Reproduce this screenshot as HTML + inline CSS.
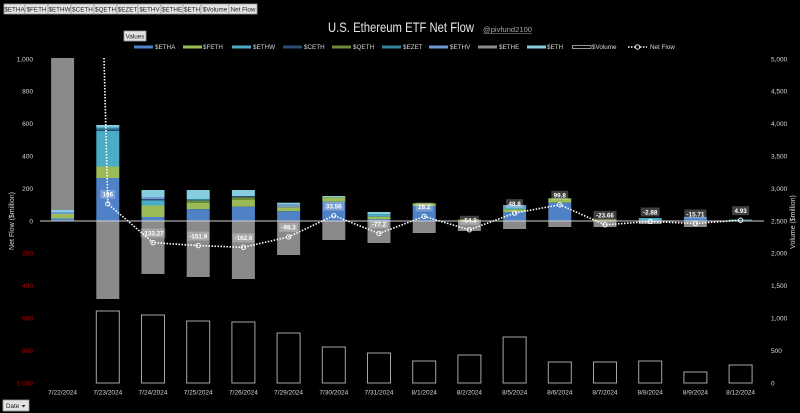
<!DOCTYPE html>
<html><head><meta charset="utf-8"><style>
html,body{margin:0;padding:0;background:#000;}
svg{display:block;}
text{font-family:"Liberation Sans",sans-serif;}
</style></head><body>
<svg width="800" height="413" viewBox="0 0 800 413" xmlns="http://www.w3.org/2000/svg">
<rect width="800" height="413" fill="#000"/>
<!-- top buttons -->
<g font-size="6.3" fill="#222" text-anchor="middle">
<rect x="4" y="4" width="21" height="10" fill="#e3e3e3" stroke="#9a9a9a" stroke-width="0.8"/><text x="14.5" y="11.4">$ETHA</text>
<rect x="25" y="4" width="23" height="10" fill="#e3e3e3" stroke="#9a9a9a" stroke-width="0.8"/><text x="36.5" y="11.4">$FETH</text>
<rect x="48" y="4" width="23" height="10" fill="#e3e3e3" stroke="#9a9a9a" stroke-width="0.8"/><text x="59.5" y="11.4">$ETHW</text>
<rect x="71" y="4" width="23" height="10" fill="#e3e3e3" stroke="#9a9a9a" stroke-width="0.8"/><text x="82.5" y="11.4">$CETH</text>
<rect x="94" y="4" width="23" height="10" fill="#e3e3e3" stroke="#9a9a9a" stroke-width="0.8"/><text x="105.5" y="11.4">$QETH</text>
<rect x="117" y="4" width="21" height="10" fill="#e3e3e3" stroke="#9a9a9a" stroke-width="0.8"/><text x="127.5" y="11.4">$EZET</text>
<rect x="138" y="4" width="23" height="10" fill="#e3e3e3" stroke="#9a9a9a" stroke-width="0.8"/><text x="149.5" y="11.4">$ETHV</text>
<rect x="161" y="4" width="22" height="10" fill="#e3e3e3" stroke="#9a9a9a" stroke-width="0.8"/><text x="172" y="11.4">$ETHE</text>
<rect x="183" y="4" width="18" height="10" fill="#e3e3e3" stroke="#9a9a9a" stroke-width="0.8"/><text x="192" y="11.4">$ETH</text>
<rect x="201" y="4" width="28" height="10" fill="#e3e3e3" stroke="#9a9a9a" stroke-width="0.8"/><text x="215" y="11.4">$Volume</text>
<rect x="229" y="4" width="28" height="10" fill="#e3e3e3" stroke="#9a9a9a" stroke-width="0.8"/><text x="243" y="11.4">Net Flow</text>
</g>
<!-- Values button -->
<rect x="124" y="31" width="22" height="10" fill="#e3e3e3" stroke="#9a9a9a" stroke-width="0.8"/>
<text x="135" y="38.4" font-size="6.3" fill="#222" text-anchor="middle">Values</text>
<!-- Date button -->
<rect x="3" y="400" width="26" height="11" fill="#e3e3e3" stroke="#9a9a9a" stroke-width="0.8"/>
<text x="6" y="408" font-size="6.3" fill="#222">Date</text>
<path d="M21.5 405 L25.5 405 L23.5 407.5 Z" fill="#333"/>
<!-- Title -->
<text x="328" y="32" font-size="13.5" fill="#e6e6e6" textLength="146" lengthAdjust="spacingAndGlyphs">U.S. Ethereum ETF Net Flow</text>
<text x="483" y="32" font-size="7.5" fill="#a6a6a6" textLength="49" lengthAdjust="spacingAndGlyphs">@pivfund2100</text>
<line x1="483" y1="33.5" x2="532" y2="33.5" stroke="#a6a6a6" stroke-width="0.6"/>
<!-- Legend -->
<g font-size="6.3" fill="#d9d9d9">
<rect x="134" y="45.5" width="19" height="3" fill="#4f81c7"/><text x="155" y="49.2">$ETHA</text>
<rect x="183" y="45.5" width="19" height="3" fill="#9bbb59"/><text x="203" y="49.2">$FETH</text>
<rect x="232" y="45.5" width="19" height="3" fill="#4bacc6"/><text x="253" y="49.2">$ETHW</text>
<rect x="283" y="45.5" width="19" height="3" fill="#2c4d75"/><text x="304" y="49.2">$CETH</text>
<rect x="332" y="45.5" width="19" height="3" fill="#6b8a3a"/><text x="353" y="49.2">$QETH</text>
<rect x="382" y="45.5" width="19" height="3" fill="#31859c"/><text x="403" y="49.2">$EZET</text>
<rect x="429" y="45.5" width="19" height="3" fill="#6f9bd1"/><text x="450" y="49.2">$ETHV</text>
<rect x="478" y="45.5" width="19" height="3" fill="#8a8a8a"/><text x="499" y="49.2">$ETHE</text>
<rect x="527" y="45.5" width="19" height="3" fill="#87cde0"/><text x="547" y="49.2">$ETH</text>
<rect x="572.5" y="45.5" width="18.5" height="3" fill="none" stroke="#bfbfbf" stroke-width="0.8"/><text x="592" y="49.2">$Volume</text>
<line x1="628" y1="47" x2="647" y2="47" stroke="#fff" stroke-width="1.5" stroke-dasharray="1.5 1.5"/>
<circle cx="637.5" cy="47" r="2.2" fill="#000" stroke="#fff" stroke-width="0.9"/>
<text x="650" y="49.2">Net Flow</text>
</g>
<!-- Left axis labels -->
<g font-size="6.5" text-anchor="end">
<text x="33" y="61.3" fill="#d9d9d9">1,000</text>
<text x="33" y="93.7" fill="#d9d9d9">800</text>
<text x="33" y="126.1" fill="#d9d9d9">600</text>
<text x="33" y="158.5" fill="#d9d9d9">400</text>
<text x="33" y="190.9" fill="#d9d9d9">200</text>
<text x="33" y="223.3" fill="#d9d9d9">0</text>
<text x="33" y="255.7" fill="#b00000">200</text>
<text x="33" y="288.1" fill="#b00000">400</text>
<text x="33" y="320.5" fill="#b00000">600</text>
<text x="33" y="352.9" fill="#b00000">800</text>
<text x="33" y="385.3" fill="#b00000">1,000</text>
</g>
<text transform="translate(14,221) rotate(-90)" font-size="7" fill="#d9d9d9" text-anchor="middle">Net Flow ($million)</text>
<!-- Right axis labels -->
<g font-size="6.5" fill="#d9d9d9">
<text x="771" y="61.3">5,000</text>
<text x="771" y="93.7">4,500</text>
<text x="771" y="126.1">4,000</text>
<text x="771" y="158.5">3,500</text>
<text x="771" y="190.9">3,000</text>
<text x="771" y="223.3">2,500</text>
<text x="771" y="255.7">2,000</text>
<text x="771" y="288.1">1,500</text>
<text x="771" y="320.5">1,000</text>
<text x="771" y="352.9">500</text>
<text x="771" y="385.3">0</text>
</g>
<text transform="translate(795,222) rotate(-90)" font-size="7" fill="#d9d9d9" text-anchor="middle">Volume ($million)</text>
<!-- Stacked bars -->
<g>
<!-- i0 -->
<rect x="51.1" y="58" width="23" height="152" fill="#8a8a8a"/>
<rect x="51.1" y="210" width="23" height="2" fill="#87cde0"/>
<rect x="51.1" y="212" width="23" height="2" fill="#6f9bd1"/>
<rect x="51.1" y="214" width="23" height="4.5" fill="#9bbb59"/>
<rect x="51.1" y="218.5" width="23" height="2.5" fill="#4f81c7"/>
<!-- i1 -->
<rect x="96.3" y="125" width="23" height="2.5" fill="#87cde0"/>
<rect x="96.3" y="127.5" width="23" height="2" fill="#31859c"/>
<rect x="96.3" y="129.5" width="23" height="1.5" fill="#2c4d75"/>
<rect x="96.3" y="131" width="23" height="35.5" fill="#4bacc6"/>
<rect x="96.3" y="166.5" width="23" height="11.5" fill="#9bbb59"/>
<rect x="96.3" y="178" width="23" height="43" fill="#4f81c7"/>
<rect x="96.3" y="221" width="23" height="78" fill="#8a8a8a"/>
<!-- i2 -->
<rect x="141.5" y="190" width="23" height="7" fill="#87cde0"/>
<rect x="141.5" y="197" width="23" height="2" fill="#6f9bd1"/>
<rect x="141.5" y="199" width="23" height="1.5" fill="#2c4d75"/>
<rect x="141.5" y="200.5" width="23" height="5" fill="#4bacc6"/>
<rect x="141.5" y="205.5" width="23" height="11.5" fill="#9bbb59"/>
<rect x="141.5" y="217" width="23" height="4" fill="#4f81c7"/>
<rect x="141.5" y="221" width="23" height="53" fill="#8a8a8a"/>
<!-- i3 -->
<rect x="186.7" y="190" width="23" height="9" fill="#87cde0"/>
<rect x="186.7" y="199" width="23" height="1.7" fill="#31859c"/>
<rect x="186.7" y="200.7" width="23" height="2" fill="#6b8a3a"/>
<rect x="186.7" y="202.7" width="23" height="6.6" fill="#9bbb59"/>
<rect x="186.7" y="209.3" width="23" height="11.7" fill="#4f81c7"/>
<rect x="186.7" y="221" width="23" height="56" fill="#8a8a8a"/>
<!-- i4 -->
<rect x="231.9" y="190" width="23" height="6" fill="#87cde0"/>
<rect x="231.9" y="196" width="23" height="1.3" fill="#2c4d75"/>
<rect x="231.9" y="197.3" width="23" height="2.7" fill="#6b8a3a"/>
<rect x="231.9" y="200" width="23" height="6.7" fill="#9bbb59"/>
<rect x="231.9" y="206.7" width="23" height="14.3" fill="#4f81c7"/>
<rect x="231.9" y="221" width="23" height="58" fill="#8a8a8a"/>
<!-- i5 -->
<rect x="277.1" y="202.7" width="23" height="2" fill="#87cde0"/>
<rect x="277.1" y="204.7" width="23" height="2.6" fill="#6f9bd1"/>
<rect x="277.1" y="207.3" width="23" height="4" fill="#9bbb59"/>
<rect x="277.1" y="211.3" width="23" height="9.7" fill="#4f81c7"/>
<rect x="277.1" y="221" width="23" height="34" fill="#8a8a8a"/>
<!-- i6 -->
<rect x="322.3" y="196" width="23" height="1.3" fill="#87cde0"/>
<rect x="322.3" y="197.3" width="23" height="4.4" fill="#9bbb59"/>
<rect x="322.3" y="201.7" width="23" height="19.3" fill="#4f81c7"/>
<rect x="322.3" y="221" width="23" height="19" fill="#8a8a8a"/>
<!-- i7 -->
<rect x="367.5" y="212" width="23" height="2.3" fill="#87cde0"/>
<rect x="367.5" y="214.3" width="23" height="2.4" fill="#4bacc6"/>
<rect x="367.5" y="216.7" width="23" height="2.6" fill="#9bbb59"/>
<rect x="367.5" y="219.3" width="23" height="1.7" fill="#4f81c7"/>
<rect x="367.5" y="221" width="23" height="22" fill="#8a8a8a"/>
<!-- i8 -->
<rect x="412.7" y="203.3" width="23" height="2.7" fill="#9bbb59"/>
<rect x="412.7" y="206" width="23" height="15" fill="#4f81c7"/>
<rect x="412.7" y="221" width="23" height="12" fill="#8a8a8a"/>
<!-- i9 -->
<rect x="457.9" y="219.5" width="23" height="1.5" fill="#6b8a3a"/>
<rect x="457.9" y="221" width="23" height="10" fill="#8a8a8a"/>
<!-- i10 -->
<rect x="503.1" y="205" width="23" height="2" fill="#6f9bd1"/>
<rect x="503.1" y="207" width="23" height="2.3" fill="#4bacc6"/>
<rect x="503.1" y="209.3" width="23" height="2.7" fill="#9bbb59"/>
<rect x="503.1" y="212" width="23" height="9" fill="#4f81c7"/>
<rect x="503.1" y="221" width="23" height="8" fill="#8a8a8a"/>
<!-- i11 -->
<rect x="548.3" y="198.3" width="23" height="4.4" fill="#9bbb59"/>
<rect x="548.3" y="202.7" width="23" height="18.3" fill="#4f81c7"/>
<rect x="548.3" y="221" width="23" height="6" fill="#8a8a8a"/>
<!-- i12 -->
<rect x="593.5" y="219.5" width="23" height="1.5" fill="#9bbb59"/>
<rect x="593.5" y="221" width="23" height="6" fill="#8a8a8a"/>
<!-- i13 -->
<rect x="638.7" y="218" width="23" height="3" fill="#4bacc6"/>
<rect x="638.7" y="221" width="23" height="3" fill="#8a8a8a"/>
<!-- i14 -->
<rect x="683.9" y="217" width="23" height="4" fill="#4f81c7"/>
<rect x="683.9" y="221" width="23" height="6" fill="#8a8a8a"/>
<!-- i15 -->
<rect x="729.1" y="219.5" width="23" height="1.5" fill="#31859c"/>
</g>
<!-- zero line -->
<line x1="40" y1="221" x2="764" y2="221" stroke="#d0d0d0" stroke-width="1"/>
<!-- Volume bars -->
<g fill="none" stroke="#a6a6a6" stroke-width="1">
<rect x="96.3" y="311" width="23" height="72"/>
<rect x="141.5" y="315" width="23" height="68"/>
<rect x="186.7" y="321" width="23" height="62"/>
<rect x="231.9" y="322" width="23" height="61"/>
<rect x="277.1" y="333" width="23" height="50"/>
<rect x="322.3" y="347" width="23" height="36"/>
<rect x="367.5" y="353" width="23" height="30"/>
<rect x="412.7" y="361" width="23" height="22"/>
<rect x="457.9" y="355" width="23" height="28"/>
<rect x="503.1" y="337" width="23" height="46"/>
<rect x="548.3" y="362" width="23" height="21"/>
<rect x="593.5" y="362" width="23" height="21"/>
<rect x="638.7" y="361" width="23" height="22"/>
<rect x="683.9" y="372" width="23" height="11"/>
<rect x="729.1" y="365" width="23" height="18"/>
</g>
<!-- X labels -->
<g font-size="6.5" fill="#d9d9d9" text-anchor="middle">
<text x="62.6" y="394.5">7/22/2024</text>
<text x="107.8" y="394.5">7/23/2024</text>
<text x="153" y="394.5">7/24/2024</text>
<text x="198.2" y="394.5">7/25/2024</text>
<text x="243.4" y="394.5">7/26/2024</text>
<text x="288.6" y="394.5">7/29/2024</text>
<text x="333.8" y="394.5">7/30/2024</text>
<text x="379" y="394.5">7/31/2024</text>
<text x="424.2" y="394.5">8/1/2024</text>
<text x="469.4" y="394.5">8/2/2024</text>
<text x="514.6" y="394.5">8/5/2024</text>
<text x="559.8" y="394.5">8/6/2024</text>
<text x="605" y="394.5">8/7/2024</text>
<text x="650.2" y="394.5">8/8/2024</text>
<text x="695.4" y="394.5">8/9/2024</text>
<text x="740.6" y="394.5">8/12/2024</text>
</g>
<!-- Net flow line -->
<polyline fill="none" stroke="#ffffff" stroke-width="1.6" stroke-dasharray="1.5 1.5"
 points="104,58 107.8,203.8 153,242.6 198.2,245.6 243.4,247.3 288.6,236.9 333.8,215.6 379,233.5 424.2,216.4 469.4,229.8 514.6,213.1 559.8,204.8 605,224.8 650.2,221.5 695.4,223.5 740.6,220.2"/>
<g fill="none" stroke="#ffffff" stroke-width="0.9">
<circle cx="107.8" cy="203.8" r="2.2"/>
<circle cx="153" cy="242.6" r="2.2"/>
<circle cx="198.2" cy="245.6" r="2.2"/>
<circle cx="243.4" cy="247.3" r="2.2"/>
<circle cx="288.6" cy="236.9" r="2.2"/>
<circle cx="333.8" cy="215.6" r="2.2"/>
<circle cx="379" cy="233.5" r="2.2"/>
<circle cx="424.2" cy="216.4" r="2.2"/>
<circle cx="469.4" cy="229.8" r="2.2"/>
<circle cx="514.6" cy="213.1" r="2.2"/>
<circle cx="559.8" cy="204.8" r="2.2"/>
<circle cx="605" cy="224.8" r="2.2"/>
<circle cx="650.2" cy="221.5" r="2.2"/>
<circle cx="695.4" cy="223.5" r="2.2"/>
<circle cx="740.6" cy="220.2" r="2.2"/>
</g>
<!-- data labels -->
<g fill="#ffffff" fill-opacity="0.25">
<rect x="100.3" y="189.8" width="15" height="9"/>
<rect x="140.5" y="228.6" width="25" height="9"/>
<rect x="187.2" y="231.6" width="22" height="9"/>
<rect x="232.4" y="233.3" width="22" height="9"/>
<rect x="279.1" y="222.9" width="19" height="9"/>
<rect x="323.3" y="201.6" width="21" height="9"/>
<rect x="369.5" y="219.5" width="19" height="9"/>
<rect x="415.7" y="202.4" width="17" height="9"/>
<rect x="459.9" y="215.8" width="19" height="9"/>
<rect x="506.1" y="199.1" width="17" height="9"/>
<rect x="551.3" y="190.8" width="17" height="9"/>
<rect x="593.5" y="210.8" width="23" height="9"/>
<rect x="640.7" y="207.5" width="19" height="9"/>
<rect x="684.4" y="209.5" width="22" height="9"/>
<rect x="732.1" y="206.2" width="17" height="9"/>
</g>
<g font-size="6.3" font-weight="bold" fill="#ffffff" text-anchor="middle">
<text x="107.8" y="196.6">106</text>
<text x="153" y="235.4">-133.27</text>
<text x="198.2" y="238.4">-151.9</text>
<text x="243.4" y="240.1">-162.6</text>
<text x="288.6" y="229.7">-98.3</text>
<text x="333.8" y="208.4">33.56</text>
<text x="379" y="226.3">-77.2</text>
<text x="424.2" y="209.2">28.2</text>
<text x="469.4" y="222.6">-54.3</text>
<text x="514.6" y="205.9">48.8</text>
<text x="559.8" y="197.6">99.8</text>
<text x="605" y="217.6">-23.66</text>
<text x="650.2" y="214.3">-2.88</text>
<text x="695.4" y="216.3">-15.71</text>
<text x="740.6" y="213">4.93</text>
</g>
</svg>
</body></html>
